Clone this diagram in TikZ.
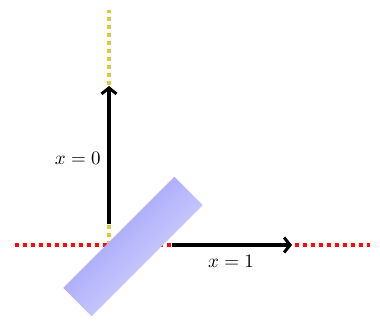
\documentclass[tikz,border=0pt]{standalone}
\usetikzlibrary{arrows.meta}
\begin{document}
\begin{tikzpicture}[x=1pt,y=-1pt,
  dotline/.style={line width=4pt,dash pattern=on 4pt off 4pt},
  vec/.style={line width=4pt,-{Straight Barb[length=6pt,width=15pt,line width=3pt]}},
  lbl/.style={scale=1.9,transform shape,inner sep=0pt}]
\useasboundingbox (0,0) rectangle (380,325);
\coordinate (O) at (109,245);
\coordinate (Rl) at (15,245);
\coordinate (Rr) at (370,245);
\coordinate (Hs) at (172,245);
\coordinate (He) at (292,245);
\coordinate (Yt) at (109,10);
\coordinate (Vs) at (109,224);
\coordinate (Ve) at (109,86);
% yellow dotted vertical
\draw[dotline,draw={rgb,255:red,222;green,200;blue,60}] (O) -- (Yt);
% red dotted horizontal
\draw[dotline,draw={rgb,255:red,250;green,10;blue,10}] (Rl) -- (Rr);
% slab
\begin{scope}[shift={(133,246.5)},rotate=45]
\shade[top color={rgb,255:red,150;green,150;blue,248},bottom color={rgb,255:red,222;green,222;blue,255},shading angle=45]
 (-78.5,-20) rectangle (78.5,20);
\end{scope}
% vectors
\draw[vec] (Vs) -- (Ve);
\draw[vec] (Hs) -- (He);
\node[lbl,anchor=east] (l0) at (101,158) {$x=0$};
\node[lbl] (l1) at (231,261) {$x=1$};
\end{tikzpicture}
\end{document}
